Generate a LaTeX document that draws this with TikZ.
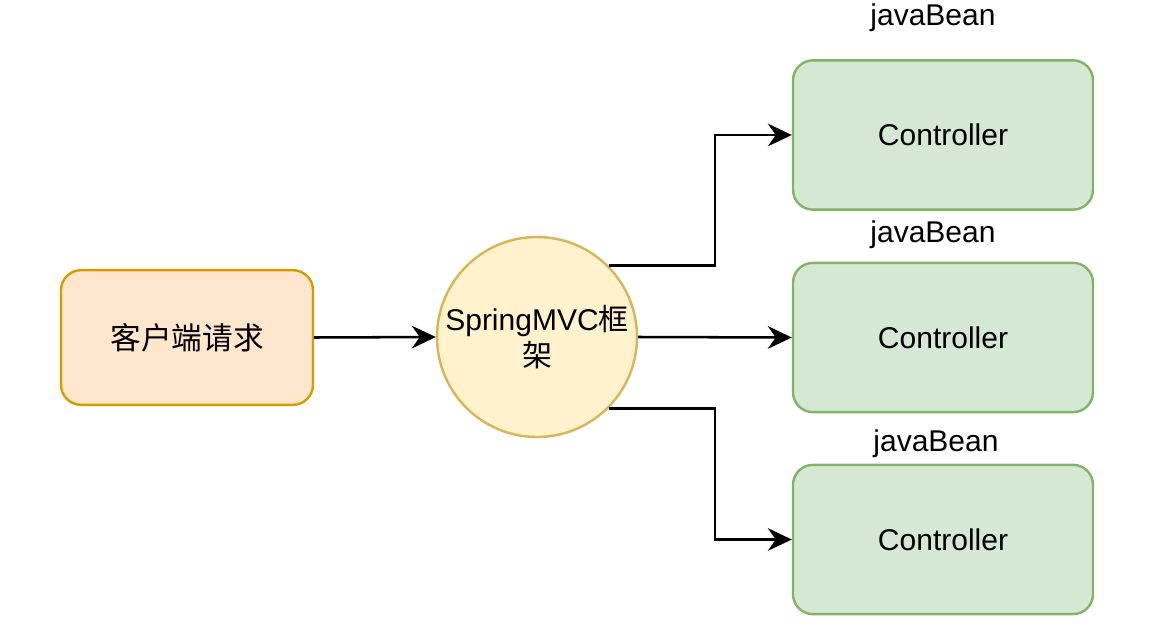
\documentclass[tikz,border=0pt]{standalone}
\usepackage{fontspec}
\setmainfont{Liberation Sans}
\newfontfamily\cjk{Noto Sans CJK SC}
\usetikzlibrary{arrows.meta}
\definecolor{orfill}{HTML}{FFE6CC}
\definecolor{ordraw}{HTML}{D79B00}
\definecolor{yefill}{HTML}{FFF2CC}
\definecolor{yedraw}{HTML}{D6B656}
\definecolor{grfill}{HTML}{D5E8D4}
\definecolor{grdraw}{HTML}{82B366}
\begin{document}
\begin{tikzpicture}[x=0.75pt,y=-0.75pt,
  every node/.style={font=\fontsize{22.5pt}{27pt}\selectfont},
  ctrl/.style={draw=grdraw,fill=grfill,line width=1.8pt,rounded corners=15pt,minimum width=225pt,minimum height=112pt,inner sep=0pt},
  lbl/.style={inner sep=0pt},
  conn/.style={line width=1.9pt,-{Stealth[length=18pt,width=17pt,inset=6pt]}}]
\useasboundingbox (0,0) rectangle (1166,642);
\node[draw=ordraw,fill=orfill,line width=1.8pt,rounded corners=15pt,minimum width=189pt,minimum height=101pt,inner sep=0pt,font=\cjk\fontsize{23pt}{27pt}\selectfont] (client) at (187,337.5) {客户端请求};
\node[circle,draw=yedraw,fill=yefill,line width=1.8pt,minimum size=150pt,inner sep=0pt,align=center] (mvc) at (537,337) {SpringMVC{\cjk 框}\\{\cjk 架}};
\node[ctrl] (c1) at (943,135) {Controller};
\node[ctrl] (c2) at (943,337.5) {Controller};
\node[ctrl] (c3) at (943,539.5) {Controller};
\node[lbl] (j1) at (933,18) {javaBean};
\node[lbl] (j2) at (933,235) {javaBean};
\node[lbl] (j3) at (936,444) {javaBean};
\draw[conn] (client.east) -- (mvc.west);
\draw[conn] (mvc.45) -| (715,200) |- (c1.west);
\draw[conn] (mvc.east) -- (c2.west);
\draw[conn] (mvc.-45) -| (715,480) |- (c3.west);
\end{tikzpicture}
\end{document}
